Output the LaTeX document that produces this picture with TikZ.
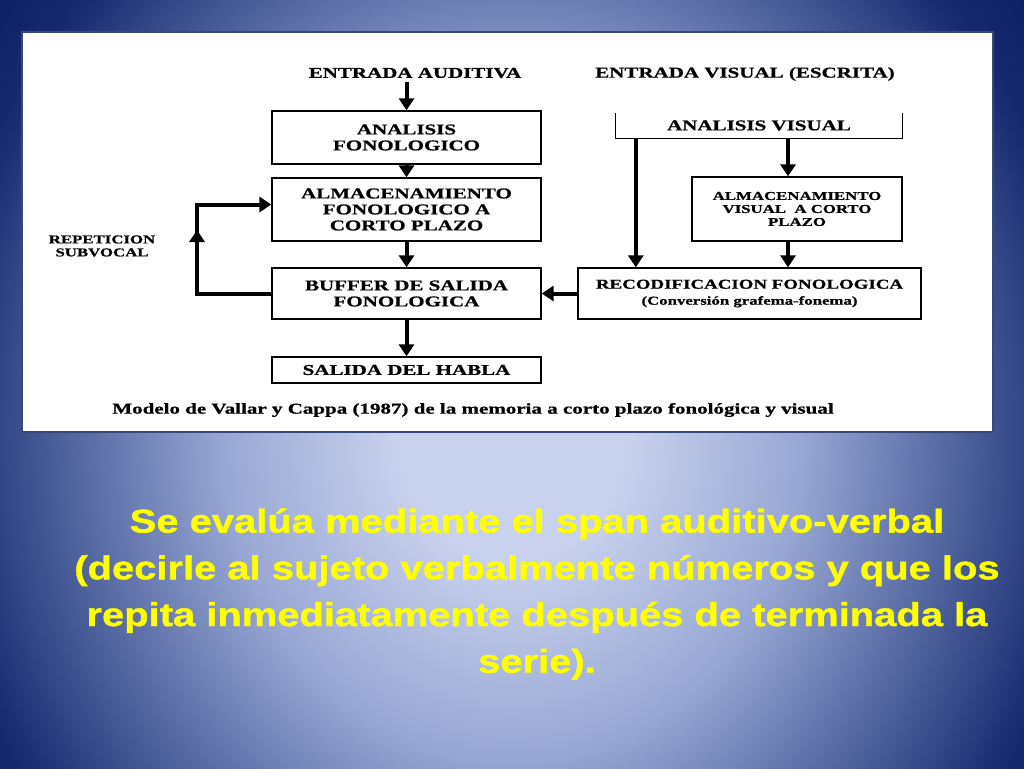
\documentclass[tikz,border=0pt]{standalone}
\usepackage{fontspec}
\setmainfont{Liberation Serif}[FakeStretch=1.4, BoldFeatures={FakeBold=0.8}]
\newfontfamily\slidefont{Liberation Sans}[FakeStretch=1.21, BoldFeatures={FakeBold=1.2}]
\usetikzlibrary{arrows.meta}

\definecolor{glowin}{RGB}{200,209,237}
\definecolor{glowlt}{RGB}{152,167,212}
\definecolor{glowmid}{RGB}{72,92,152}
\definecolor{glowdk}{RGB}{22,40,110}
\definecolor{glowout}{RGB}{8,26,90}
\definecolor{slideyellow}{RGB}{255,255,0}
\pgfdeclareradialshading{slideglow}{\pgfpoint{0bp}{0bp}}{color(0bp)=(glowin); color(10bp)=(glowin); color(25bp)=(glowlt); color(40bp)=(glowmid); color(50bp)=(glowdk); color(62bp)=(glowout); color(80bp)=(glowout)}

\tikzset{
  block/.style={draw, line width=1.3pt, fill=white, align=center, inner sep=2pt,
    font=\bfseries\fontsize{15}{16}\selectfont},
  heading/.style={align=center, font=\bfseries\fontsize{15}{16}\selectfont},
  flow/.style={line width=4pt, -{Triangle[width=15pt,length=12pt]}}
}

\begin{document}
\begin{tikzpicture}[x=1pt,y=-1pt]
    % fondo
    \useasboundingbox (0,0) rectangle (1024,768);
    \begin{scope}
      \clip (0,0) rectangle (1024,768);
      \node[inner sep=0pt] (glow) at (512,430) {\scalebox{11.5}[13]{\pgfuseshading{slideglow}}};
    \end{scope}

    % panel blanco
    \fill[white] (22,32) rectangle (993,432);
    \draw[glowout!80, line width=1.5pt] (22,32) rectangle (993,432);

    % entrada auditiva
    \node[heading] (entaud) at (415,73) {ENTRADA AUDITIVA};
    \node[block, minimum width=269, minimum height=53] (fonan) at (406.5,137.5) {ANALISIS\\FONOLOGICO};
    \node[block, minimum width=269, minimum height=63] (almfon) at (406.5,209.5) {ALMACENAMIENTO\\FONOLOGICO A\\CORTO PLAZO};
    \node[block, minimum width=269, minimum height=51] (buffer) at (406.5,293.5) {BUFFER DE SALIDA\\FONOLOGICA};
    \node[block, minimum width=269, minimum height=26] (habla) at (406.5,370) {SALIDA DEL HABLA};
    \node[align=center, font=\bfseries\fontsize{12}{13}\selectfont] (rep) at (102,246) {REPETICION\\SUBVOCAL};

    % entrada visual
    \node[heading] (entvis) at (745,74) {ENTRADA VISUAL (ESCRITA)};
    \node[minimum width=286, minimum height=25, font=\bfseries\fontsize{15}{16}\selectfont] (anvis) at (759,125.5) {ANALISIS VISUAL};
    \draw[line width=1.3pt] (anvis.north west) -- (anvis.south west) -- (anvis.south east) -- (anvis.north east);
    \node[block, minimum width=210, minimum height=64, font=\bfseries\fontsize{12}{13}\selectfont] (almvis) at (797,209) {ALMACENAMIENTO\\VISUAL \ A CORTO\\PLAZO};
    \node[block, minimum width=343, minimum height=51, font=\bfseries\fontsize{13.5}{16}\selectfont] (recod) at (749.5,293.5) {RECODIFICACION FONOLOGICA\\{\fontsize{12}{14}\selectfont (Conversión grafema-fonema)}};

    % pie
    \node[font=\bfseries\fontsize{15}{16}\selectfont] (pie) at (473,410) {Modelo de Vallar y Cappa (1987) de la memoria a corto plazo fonológica y visual};

    % flechas ruta auditiva
    \draw[flow] (fonan.north |- entaud.south) -- (fonan.north);
    \draw[flow] (fonan) -- (almfon);
    \draw[flow] (almfon) -- (buffer);
    \draw[flow] (buffer) -- (habla);

    % repeticion subvocal
    \coordinate (loop) at (197,293.5);
    \draw[flow] (buffer.west) -- (loop) -- (loop |- 0,230);
    \draw[flow] (loop |- 0,238) |- ([yshift=5]almfon.west);

    % flechas ruta visual
    \draw[flow] ([xshift=20]anvis.south west) -- ([xshift=20]anvis.south west |- recod.north);
    \draw[flow] ([xshift=-9]almvis.north |- anvis.south) -- ([xshift=-9]almvis.north);
    \draw[flow] ([xshift=-9]almvis.south) -- ([xshift=-9]recod.north -| almvis.south);
    \draw[flow] (recod) -- (buffer);

    % texto
    \node[text=slideyellow, align=center, font=\slidefont\bfseries\fontsize{33}{46.7}\selectfont] (texto) at (537,594)
      {Se evalúa mediante el span auditivo-verbal\\(decirle al sujeto verbalmente números y que los\\repita inmediatamente después de terminada la\\serie).};
\end{tikzpicture}
\end{document}
